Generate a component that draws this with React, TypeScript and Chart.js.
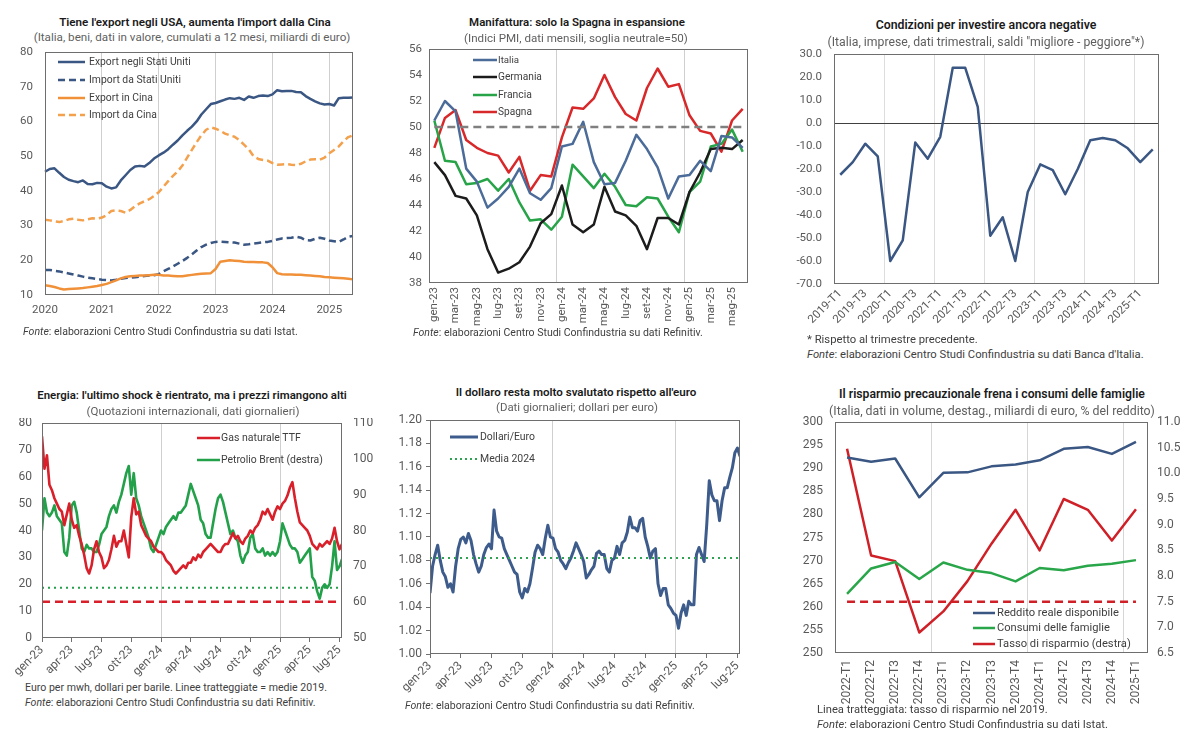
import React, { useEffect, useRef } from 'react';
import { Chart, registerables } from 'chart.js';
Chart.register(...registerables);

const FONT = 'Roboto, "Noto Sans", "DejaVu Sans", sans-serif';
Chart.defaults.font.family = FONT;
const TICK = '#595959';
const GRIDV = '#cfcfcf';
const CLEAR = 'rgba(0,0,0,0)';
const tickFont = { family: FONT, size: 11.5 };
const tickFontB = { family: FONT, size: 12 };

// ===================== Panel 1 =====================
const p1Years = ['2020', '2021', '2022', '2023', '2024', '2025'];
const p1ExportUSA = [
  45.5, 46.3, 46.5, 45.2, 44.0, 43.2, 42.8, 42.5, 43.0, 42.0, 41.9, 42.3,
  42.2, 41.2, 40.7, 41.0, 43.0, 44.5, 46.0, 47.0, 47.2, 47.0, 48.0, 49.3,
  50.2, 51.0, 52.0, 53.3, 54.5, 56.0, 57.3, 58.5, 60.0, 62.0, 63.5, 65.0,
  65.3, 65.8, 66.3, 66.7, 66.5, 66.8, 66.2, 67.2, 66.8, 67.3, 67.5, 67.3,
  67.8, 69.0, 68.7, 68.8, 68.8, 68.5, 68.4, 67.3, 66.5, 65.8, 65.2, 64.9,
  65.0, 64.6, 66.7, 66.8, 66.8, 66.9,
];
const p1ImportUSA = [
  17.2, 17.2, 17.0, 16.8, 16.5, 16.2, 15.9, 15.6, 15.3, 15.0, 14.8, 14.6,
  14.4, 14.3, 14.2, 14.4, 14.7, 14.9, 15.0, 15.1, 15.3, 15.5, 15.6, 15.7,
  16.0, 16.8, 17.5, 18.2, 19.0, 19.8, 20.7, 21.7, 22.8, 23.8, 24.5, 25.0,
  25.3, 25.4, 25.3, 25.2, 25.1, 24.8, 24.5, 24.6, 24.8, 25.0, 25.2, 25.3,
  25.6, 26.0, 26.3, 26.4, 26.5, 26.8, 26.5, 25.8, 25.7, 26.2, 26.5, 26.2,
  25.7, 25.5, 25.3, 26.0, 26.8, 27.0,
];
const p1ExportCina = [
  12.8, 12.6, 12.3, 11.9, 11.6, 11.7, 11.8, 11.9, 12.0, 12.2, 12.4, 12.6,
  12.9, 13.2, 13.7, 14.2, 14.8, 15.2, 15.4, 15.5, 15.6, 15.6, 15.7, 15.8,
  15.8, 15.6, 15.6, 15.5, 15.4, 15.4, 15.6, 15.8, 16.0, 16.1, 16.2, 16.3,
  17.5, 19.6, 19.8, 20.0, 19.9, 19.8, 19.6, 19.5, 19.5, 19.4, 19.4, 19.2,
  18.0, 16.3, 16.0, 15.9, 15.9, 15.8, 15.8, 15.7, 15.6, 15.5, 15.4, 15.2,
  15.1, 15.0, 14.9, 14.8, 14.7, 14.5,
];
const p1ImportCina = [
  31.7, 31.5, 31.2, 31.0, 31.3, 31.8, 32.0, 31.7, 31.5, 31.8, 32.1, 32.0,
  32.3, 33.0, 34.2, 34.4, 34.2, 33.7, 34.5, 35.6, 36.4, 37.0, 37.6, 38.5,
  39.6, 41.2, 42.8, 44.3, 45.6, 47.3, 49.6, 51.8, 54.0, 56.0, 57.6, 58.3,
  57.9, 57.3, 56.5, 56.0, 55.6, 54.6, 53.3, 52.0, 50.0, 49.2, 48.9, 48.7,
  48.0, 47.5, 47.6, 47.7, 47.5, 47.4, 47.8, 48.5, 49.0, 49.1, 49.0, 49.6,
  50.8, 51.8, 52.8, 54.3, 55.5, 56.0,
];
const p1Months: string[] = [];
p1Years.forEach((y) => {
  for (let m = 1; m <= 12; m++) p1Months.push(y + '-' + m);
});
const p1Labels = p1Months.slice(0, p1ExportUSA.length);

// ===================== Panel 2 =====================
const p2Labels = [
  'gen-23', 'feb-23', 'mar-23', 'apr-23', 'mag-23', 'giu-23', 'lug-23', 'ago-23', 'set-23', 'ott-23', 'nov-23', 'dic-23',
  'gen-24', 'feb-24', 'mar-24', 'apr-24', 'mag-24', 'giu-24', 'lug-24', 'ago-24', 'set-24', 'ott-24', 'nov-24', 'dic-24',
  'gen-25', 'feb-25', 'mar-25', 'apr-25', 'mag-25', 'giu-25',
];
const p2Italia = [50.5, 52.0, 51.2, 46.8, 45.8, 43.8, 44.5, 45.4, 46.8, 44.9, 44.4, 45.3, 48.5, 48.7, 50.4, 47.3, 45.6, 45.7, 47.4, 49.4, 48.3, 46.9, 44.5, 46.2, 46.3, 47.4, 46.6, 49.3, 49.2, 48.4];
const p2Germania = [47.3, 46.3, 44.7, 44.5, 43.2, 40.6, 38.8, 39.1, 39.6, 40.8, 42.6, 43.3, 45.5, 42.5, 41.9, 42.5, 45.4, 43.5, 43.2, 42.4, 40.6, 43.0, 43.0, 42.5, 45.0, 46.5, 48.3, 48.4, 48.3, 49.0];
const p2Francia = [50.5, 47.4, 47.3, 45.6, 45.7, 46.0, 45.1, 46.0, 44.2, 42.8, 42.9, 42.1, 43.1, 47.1, 46.2, 45.3, 46.4, 45.4, 44.0, 43.9, 44.6, 44.5, 43.1, 41.9, 45.0, 45.8, 48.5, 48.7, 49.8, 48.1];
const p2Spagna = [48.4, 50.7, 51.3, 49.0, 48.4, 48.0, 47.8, 46.5, 47.7, 45.1, 46.3, 46.2, 49.2, 51.5, 51.4, 52.2, 54.0, 52.3, 51.0, 50.5, 53.0, 54.5, 53.1, 53.3, 50.9, 49.7, 49.5, 48.1, 50.5, 51.4];
const p2Soglia = 50;

// ===================== Panel 3 =====================
const p3Labels = [
  '2019-T1', '2019-T2', '2019-T3', '2019-T4', '2020-T1', '2020-T2', '2020-T3', '2020-T4',
  '2021-T1', '2021-T2', '2021-T3', '2021-T4', '2022-T1', '2022-T2', '2022-T3', '2022-T4',
  '2023-T1', '2023-T2', '2023-T3', '2023-T4', '2024-T1', '2024-T2', '2024-T3', '2024-T4',
  '2025-T1', '2025-T2',
];
const p3Saldi = [-22.5, -17, -9, -14.5, -60, -51, -8.5, -15.5, -6, 24, 24, 7, -49, -41, -60, -30, -18, -20.5, -31, -20, -7.5, -6.5, -7.5, -11, -17, -11.5];

// ===================== Panels 4 & 5 (weekly readings, 4 per month) =====================
const p45TickLabels = ['gen-23', 'apr-23', 'lug-23', 'ott-23', 'gen-24', 'apr-24', 'lug-24', 'ott-24', 'gen-25', 'apr-25', 'lug-25'];
const p4Gas = [
  75, 63, 68, 57, 55, 52, 50, 48, 47, 42, 46, 50, 44, 41, 42, 38,
  35, 31, 26, 24, 27, 33, 36, 32, 30, 26, 27, 29, 33, 38, 34, 36,
  36, 40, 35, 30, 45, 52, 46, 47, 42, 40, 38, 37, 36, 34, 33, 32,
  32, 31, 29, 28, 27, 25, 24, 25, 26, 27, 26, 28, 28, 30, 29, 31,
  30, 32, 33, 34, 35, 34, 33, 32, 32, 34, 35, 35, 37, 39, 37, 38,
  36, 35, 37, 38, 40, 39, 41, 42, 44, 47, 46, 48, 46, 44, 47, 49,
  48, 50, 51, 53, 56, 58, 52, 47, 43, 42, 41, 40, 38, 35, 34, 33,
  35, 34, 35, 36, 35, 37, 41, 36, 33, 35,
];
const p4Brent = [
  80, 89, 85, 84, 85, 87, 84, 83, 82, 74, 73, 78, 87, 88, 85, 80,
  75, 74, 76, 75, 75, 74, 74, 76, 79, 80, 81, 84, 86, 87, 85, 88,
  90, 93, 96, 98, 90, 96, 89, 87, 84, 82, 80, 78, 75, 74, 76, 78,
  80, 79, 81, 82, 83, 84, 83, 85, 85, 86, 87, 90, 93, 91, 89, 87,
  83, 82, 79, 78, 78, 82, 86, 89, 90, 88, 85, 82, 79, 80, 78, 77,
  73, 71, 73, 74, 78, 79, 75, 74, 74, 75, 73, 74, 73, 74, 73, 74,
  77, 82, 80, 78, 76, 75, 75, 74, 71, 72, 73, 74, 75, 67, 66, 63,
  61, 64, 65, 64, 65, 70, 77, 69, 70, 72,
];
const p4Gas2019 = 13.5;
const p4Brent2019 = 64;

const p5Usd = [
  1.052, 1.075, 1.085, 1.093, 1.080, 1.070, 1.066, 1.057, 1.060, 1.053, 1.075, 1.090,
  1.098, 1.100, 1.095, 1.103, 1.097, 1.085, 1.077, 1.070, 1.075, 1.085, 1.091, 1.094,
  1.090, 1.123, 1.105, 1.100, 1.099, 1.090, 1.085, 1.080, 1.075, 1.070, 1.068, 1.053,
  1.048, 1.056, 1.053, 1.060, 1.073, 1.087, 1.093, 1.090, 1.085, 1.099, 1.110, 1.100,
  1.099, 1.090, 1.087, 1.080, 1.077, 1.073, 1.078, 1.082, 1.088, 1.095, 1.090, 1.085,
  1.079, 1.065, 1.068, 1.072, 1.075, 1.086, 1.088, 1.085, 1.085, 1.073, 1.070, 1.080,
  1.082, 1.092, 1.085, 1.095, 1.097, 1.104, 1.117, 1.108, 1.108, 1.105, 1.114, 1.116,
  1.100, 1.092, 1.082, 1.088, 1.090, 1.060, 1.050, 1.056, 1.056, 1.042, 1.039, 1.035,
  1.033, 1.022, 1.035, 1.042, 1.033, 1.045, 1.042, 1.042, 1.085, 1.091, 1.085, 1.079,
  1.110, 1.148, 1.136, 1.131, 1.131, 1.114, 1.131, 1.142, 1.142, 1.151, 1.159, 1.172,
  1.176, 1.169,
];
const p5Media2024 = 1.082;

// ===================== Panel 6 =====================
const p6Labels = ['2022-T1', '2022-T2', '2022-T3', '2022-T4', '2023-T1', '2023-T2', '2023-T3', '2023-T4', '2024-T1', '2024-T2', '2024-T3', '2024-T4', '2025-T1'];
const p6Reddito = [292.3, 291.4, 292.1, 283.7, 289.0, 289.1, 290.4, 290.8, 291.7, 294.2, 294.6, 293.1, 295.7];
const p6Consumi = [262.8, 268.3, 269.7, 266.0, 269.6, 268.0, 267.3, 265.5, 268.4, 267.9, 268.9, 269.3, 270.1];
const p6Tasso = [10.48, 8.4, 8.29, 6.9, 7.31, 7.9, 8.63, 9.29, 8.5, 9.5, 9.29, 8.69, 9.3];
const p6Tasso2019 = 7.5;

// ===================== colours =====================
const NAVY = '#3a5683';
const ORANGE = '#f0913a';
const ORANGE_D = '#f4a14e';
const P2_BLUE = '#4b6b99';
const P2_BLACK = '#1c1c1c';
const P2_GREEN = '#27a348';
const P2_RED = '#d8282a';
const RED = '#d9202a';
const GREEN = '#23a04a';

// ===================== helpers =====================
const framePlugin = {
  id: 'frame',
  afterDraw(chart: any) {
    const { ctx, chartArea: a } = chart;
    ctx.save();
    ctx.strokeStyle = '#6e6e6e';
    ctx.lineWidth = 1;
    ctx.strokeRect(Math.round(a.left) + 0.5, Math.round(a.top) + 0.5, Math.round(a.right - a.left) - 1, Math.round(a.bottom - a.top) - 1);
    ctx.restore();
  },
};

const fitW = (w: number) => (s: any) => {
  s.width = w;
  s.paddingTop = 0; s.paddingBottom = 0; s.paddingLeft = 0; s.paddingRight = 0;
};
const fitH = (h: number) => (s: any) => {
  s.height = h;
  s.paddingTop = 0; s.paddingBottom = 0; s.paddingLeft = 0; s.paddingRight = 0;
};

const base = (pad: any) => ({
  animation: false,
  responsive: true,
  maintainAspectRatio: false,
  layout: { padding: pad },
  plugins: { legend: { display: false }, tooltip: { enabled: false }, title: { display: false } },
  elements: { point: { radius: 0 }, line: { tension: 0, borderJoinStyle: 'round' } },
});

const ln = (data: any[], color: string, width = 2.5, dash: number[] = [], extra: any = {}) => ({
  data, borderColor: color, backgroundColor: color, borderWidth: width, borderDash: dash,
  pointRadius: 0, fill: false, tension: 0, ...extra,
});

const weekX = (arr: number[]) => arr.map((_, i) => i / 4);
const toPts = (arr: number[]) => arr.map((v, i) => ({ x: i / 4, y: v }));
const flat = (v: number, xs: number[]) => [{ x: xs[0], y: v }, { x: xs[xs.length - 1], y: v }];

// ===================== configs =====================
function cfg1(): any {
  return {
    type: 'line',
    data: {
      labels: p1Labels,
      datasets: [
        ln(p1ImportCina, ORANGE_D, 2.5, [7, 4]),
        ln(p1ExportCina, ORANGE, 2.5),
        ln(p1ImportUSA, NAVY, 2.5, [7, 4]),
        ln(p1ExportUSA, NAVY, 2.5),
      ],
    },
    options: {
      ...base({ left: 0, top: 6, right: 9, bottom: 0 }),
      scales: {
        x: {
          offset: false,
          border: { display: false },
          grid: { color: (c: any) => (c.index > 0 && c.index % 12 === 0 ? GRIDV : CLEAR), drawTicks: false },
          ticks: { autoSkip: false, maxRotation: 0, minRotation: 0, padding: 8, color: TICK, font: tickFont,
            callback: (_v: any, i: number) => (i % 12 === 0 ? p1Years[i / 12] : '') },
          afterFit: fitH(33),
        },
        y: {
          min: 10, max: 80,
          border: { display: false },
          grid: { display: false, drawTicks: false },
          ticks: { stepSize: 10, padding: 12, color: TICK, font: tickFont },
          afterFit: fitW(45),
        },
      },
    },
    plugins: [framePlugin],
  };
}

function cfg2(): any {
  return {
    type: 'line',
    data: {
      labels: p2Labels,
      datasets: [
        ln(p2Labels.map(() => p2Soglia), '#7f7f7f', 2.5, [8, 5]),
        ln(p2Italia, P2_BLUE, 2.5),
        ln(p2Germania, P2_BLACK, 2.5),
        ln(p2Francia, P2_GREEN, 2.5),
        ln(p2Spagna, P2_RED, 2.5),
      ],
    },
    options: {
      ...base({ left: 0, top: 5, right: 7, bottom: 0 }),
      scales: {
        x: {
          offset: true,
          border: { display: false },
          grid: { offset: true, color: (c: any) => (c.index === 12 || c.index === 24 ? GRIDV : CLEAR), drawTicks: false },
          ticks: { autoSkip: false, maxRotation: 90, minRotation: 90, padding: 4, color: TICK, font: tickFont,
            callback: (_v: any, i: number) => (i % 2 === 0 ? p2Labels[i] : '') },
          afterFit: fitH(46),
        },
        y: {
          min: 38, max: 56,
          border: { display: false },
          grid: { display: false, drawTicks: false },
          ticks: { stepSize: 2, padding: 7, color: TICK, font: tickFont },
          afterFit: fitW(29),
        },
      },
    },
    plugins: [framePlugin],
  };
}

function cfg3(): any {
  return {
    type: 'line',
    data: { labels: p3Labels, datasets: [ln(p3Saldi, NAVY, 2.5)] },
    options: {
      ...base({ left: 0, top: 6, right: 11, bottom: 0 }),
      scales: {
        x: {
          offset: true,
          border: { display: false },
          grid: { offset: true, color: (c: any) => (c.index > 0 && c.index % 4 === 0 ? '#dddddd' : CLEAR), drawTicks: false },
          ticks: { autoSkip: false, maxRotation: 45, minRotation: 45, padding: 3, color: TICK, font: tickFont,
            callback: (_v: any, i: number) => (i % 2 === 0 ? p3Labels[i] : '') },
          afterFit: fitH(54),
        },
        y: {
          min: -70, max: 30,
          border: { display: false },
          grid: { color: (c: any) => (c.tick && c.tick.value === 0 ? '#404040' : CLEAR), drawTicks: false, lineWidth: 1 },
          ticks: { stepSize: 10, padding: 12, color: TICK, font: tickFont, callback: (v: any) => Number(v).toFixed(1) },
          afterFit: fitW(44),
        },
      },
    },
    plugins: [framePlugin],
  };
}

function timeAxis(padding: number, h: number) {
  return {
    type: 'linear',
    min: 0,
    max: (p4Gas.length - 1) / 4,
    border: { display: false },
    afterBuildTicks: (s: any) => { s.ticks = p45TickLabels.map((_, i) => ({ value: i * 3 })); },
    grid: {
      color: (c: any) => (c.tick && (c.tick.value === 12 || c.tick.value === 24) ? GRIDV : CLEAR),
      tickColor: '#707070', tickLength: 4, drawTicks: true,
    },
    ticks: { autoSkip: false, maxRotation: 45, minRotation: 45, padding, color: TICK, font: tickFontB,
      callback: (v: any) => p45TickLabels[Math.round(Number(v) / 3)] },
    afterFit: fitH(h),
  };
}

function cfg4(): any {
  const xs = weekX(p4Gas);
  return {
    type: 'line',
    data: {
      datasets: [
        ln(flat(p4Gas2019, xs), RED, 2.5, [8, 5], { yAxisID: 'y' }),
        ln(flat(p4Brent2019, xs), GREEN, 2, [2, 4], { yAxisID: 'y1' }),
        ln(toPts(p4Gas), RED, 2.6, [], { yAxisID: 'y' }),
        ln(toPts(p4Brent), GREEN, 2.6, [], { yAxisID: 'y1' }),
      ],
    },
    options: {
      ...base({ left: 0, top: 5, right: 0, bottom: 0 }),
      scales: {
        x: timeAxis(1, 42),
        y: {
          min: 0, max: 80, position: 'left',
          border: { display: false },
          grid: { display: false, drawTicks: false },
          ticks: { stepSize: 10, padding: 10, color: TICK, font: tickFontB },
          afterFit: fitW(42),
        },
        y1: {
          min: 50, max: 110, position: 'right',
          border: { display: false },
          grid: { display: false, drawTicks: false },
          ticks: { stepSize: 10, padding: 11, color: TICK, font: tickFontB },
          afterFit: fitW(38),
        },
      },
    },
    plugins: [framePlugin],
  };
}

function cfg5(): any {
  const xs = weekX(p5Usd);
  return {
    type: 'line',
    data: {
      datasets: [
        ln(flat(p5Media2024, xs), '#2ea352', 2, [2, 4]),
        ln(toPts(p5Usd), '#3d5c8c', 3),
      ],
    },
    options: {
      ...base({ left: 0, top: 6, right: 8, bottom: 0 }),
      scales: {
        x: timeAxis(1, 46),
        y: {
          min: 1.0, max: 1.2,
          border: { display: false },
          grid: { drawOnChartArea: false, drawTicks: true, tickLength: 4, tickColor: '#707070', color: CLEAR },
          ticks: { stepSize: 0.02, padding: 4, color: TICK, font: tickFontB, callback: (v: any) => Number(v).toFixed(2) },
          afterFit: fitW(32),
        },
      },
    },
    plugins: [framePlugin],
  };
}

function cfg6(): any {
  return {
    type: 'line',
    data: {
      labels: p6Labels,
      datasets: [
        ln(p6Labels.map(() => p6Tasso2019), '#cf2027', 2.5, [8, 5], { yAxisID: 'y1' }),
        ln(p6Reddito, NAVY, 2.5, [], { yAxisID: 'y' }),
        ln(p6Consumi, '#2aa64a', 2.5, [], { yAxisID: 'y' }),
        ln(p6Tasso, '#cf2027', 2.5, [], { yAxisID: 'y1' }),
      ],
    },
    options: {
      ...base({ left: 0, top: 6, right: 0, bottom: 0 }),
      scales: {
        x: {
          offset: true,
          border: { display: false },
          grid: { offset: true, color: (c: any) => (c.index > 0 && c.index % 4 === 0 ? '#d6d6d6' : CLEAR), drawTicks: false },
          ticks: { autoSkip: false, maxRotation: 90, minRotation: 90, padding: 7, color: TICK, font: tickFontB },
          afterFit: fitH(53),
        },
        y: {
          min: 250, max: 300, position: 'left',
          border: { display: false },
          grid: { display: false, drawTicks: false },
          ticks: { stepSize: 5, padding: 12, color: TICK, font: tickFontB },
          afterFit: fitW(45),
        },
        y1: {
          min: 6.5, max: 11, position: 'right',
          border: { display: false },
          grid: { display: false, drawTicks: false },
          ticks: { stepSize: 0.5, padding: 9, color: TICK, font: tickFontB, callback: (v: any) => Number(v).toFixed(1) },
          afterFit: fitW(42),
        },
      },
    },
    plugins: [framePlugin],
  };
}

// ===================== components =====================
function ChartBox(props: { l: number; t: number; w: number; h: number; make: () => any }) {
  const ref = useRef<HTMLCanvasElement | null>(null);
  useEffect(() => {
    const chart = new Chart(ref.current as HTMLCanvasElement, props.make());
    return () => chart.destroy();
  }, []);
  return (
    <div style={{ position: 'absolute', left: props.l, top: props.t, width: props.w, height: props.h }}>
      <canvas ref={ref} />
    </div>
  );
}

let measureCtx: CanvasRenderingContext2D | null = null;
// font size (px) that makes `text` span the width `w`
function sizeFor(text: string, w: number, weight: number) {
  if (!measureCtx) measureCtx = document.createElement('canvas').getContext('2d');
  if (!measureCtx) return 11;
  measureCtx.font = `${weight} 100px Roboto`;
  const m = measureCtx.measureText(text).width;
  return m > 0 ? (w / m) * 100 : 11;
}

function Txt(props: { x: number; y: number; w: number; text: string; color?: string; weight?: number; center?: boolean; fonte?: boolean }) {
  const { x, y, w, text, color = '#404040', weight = 400, center = false, fonte = false } = props;
  const size = sizeFor(text, w, weight);
  return (
    <div
      style={{
        position: 'absolute', left: x, top: y, fontFamily: FONT, fontSize: size, fontWeight: weight, color,
        whiteSpace: 'nowrap', lineHeight: 1, transform: `translate(${center ? '-50%' : '0'}, -50%)`,
      }}
    >
      {fonte ? (<><i>Fonte</i>{text.slice(5)}</>) : text}
    </div>
  );
}

function Sample(props: { x1: number; x2: number; y: number; color: string; width?: number; dash?: string }) {
  const { x1, x2, y, color, width = 2.5, dash } = props;
  return (
    <svg style={{ position: 'absolute', left: x1, top: y - 5, overflow: 'visible' }} width={x2 - x1} height={10}>
      <line x1={0} y1={5} x2={x2 - x1} y2={5} stroke={color} strokeWidth={width} strokeDasharray={dash} />
    </svg>
  );
}

function Legend(props: { x1: number; x2: number; tx: number; items: { y: number; w: number; color: string; label: string; dash?: string; width?: number }[] }) {
  return (
    <>
      {props.items.map((it, i) => (
        <React.Fragment key={i}>
          <Sample x1={props.x1} x2={props.x2} y={it.y} color={it.color} dash={it.dash} width={it.width} />
          <Txt x={props.tx} y={it.y} w={it.w} text={it.label} color="#404040" />
        </React.Fragment>
      ))}
    </>
  );
}

const TW = 600; // title weight
const TC = '#1a1a1a';
const SC = '#5f5f5f';

export default function App() {
  return (
    <div style={{ position: 'absolute', left: 0, top: 0, width: 1200, height: 740, background: '#ffffff', overflow: 'hidden' }}>
      <ChartBox l={0} t={46} w={362} h={282} make={cfg1} />
      <ChartBox l={400} t={44} w={355} h={285} make={cfg2} />
      <ChartBox l={790} t={48} w={380} h={290} make={cfg3} />
      <ChartBox l={0} t={418} w={380} h={262} make={cfg4} />
      <ChartBox l={398} t={414} w={350} h={286} make={cfg5} />
      <ChartBox l={790} t={416} w={400} h={290} make={cfg6} />

      {/* Panel 1 */}
      <Txt x={195} y={23} w={272} weight={TW} color={TC} center text="Tiene l'export negli USA, aumenta l'import dalla Cina" />
      <Txt x={192} y={38} w={317} color={SC} center text="(Italia, beni, dati in valore, cumulati a 12 mesi, miliardi di euro)" />
      <Legend x1={58} x2={85} tx={89} items={[
        { y: 62, w: 102, color: NAVY, label: 'Export negli Stati Uniti' },
        { y: 80, w: 92, color: NAVY, label: 'Import da Stati Uniti', dash: '7 4' },
        { y: 98, w: 64, color: ORANGE, label: 'Export in Cina' },
        { y: 115, w: 68, color: ORANGE_D, label: 'Import da Cina', dash: '7 4' },
      ]} />
      <Txt x={23} y={332} w={276} fonte text="Fonte: elaborazioni Centro Studi Confindustria su dati Istat." />

      {/* Panel 2 */}
      <Txt x={577} y={23} w={216} weight={TW} color={TC} center text="Manifattura: solo la Spagna in espansione" />
      <Txt x={576} y={39} w={224} color={SC} center text="(Indici PMI, dati mensili, soglia neutrale=50)" />
      <Legend x1={473} x2={497} tx={498} items={[
        { y: 60, w: 21, color: P2_BLUE, label: 'Italia' },
        { y: 77, w: 44, color: P2_BLACK, label: 'Germania' },
        { y: 95, w: 34, color: P2_GREEN, label: 'Francia' },
        { y: 112, w: 34, color: P2_RED, label: 'Spagna' },
      ]} />
      <Txt x={413} y={333} w={291} fonte text="Fonte: elaborazioni Centro Studi Confindustria su dati Refinitiv." />

      {/* Panel 3 */}
      <Txt x={986} y={25} w={221} weight={TW} color={TC} center text="Condizioni per investire ancora negative" />
      <Txt x={986} y={42} w={317} color={SC} center text={'(Italia, imprese, dati trimestrali, saldi "migliore - peggiore"*)'} />
      <Txt x={807} y={340} w={171} text="* Rispetto al trimestre precedente." />
      <Txt x={807} y={355} w={338} fonte text="Fonte: elaborazioni Centro Studi Confindustria su dati Banca d'Italia." />

      {/* Panel 4 */}
      <Txt x={192} y={396} w={310} weight={TW} color={TC} center text="Energia: l'ultimo shock è rientrato, ma i prezzi rimangono alti" />
      <Txt x={193} y={412} w={213} color={SC} center text="(Quotazioni internazionali, dati giornalieri)" />
      <Legend x1={197} x2={220} tx={221} items={[
        { y: 438, w: 80, color: RED, label: 'Gas naturale TTF' },
        { y: 460, w: 102, color: GREEN, label: 'Petrolio Brent (destra)' },
      ]} />
      <Txt x={25} y={688} w={302} text="Euro per mwh, dollari per barile. Linee tratteggiate = medie 2019." />
      <Txt x={25} y={703} w={292} fonte text="Fonte: elaborazioni Centro Studi Confindustria su dati Refinitiv." />

      {/* Panel 5 */}
      <Txt x={576} y={393} w={241} weight={TW} color={TC} center text="Il dollaro resta molto svalutato rispetto all'euro" />
      <Txt x={577} y={408} w={162} color={SC} center text="(Dati giornalieri; dollari per euro)" />
      <Legend x1={450} x2={478} tx={480} items={[
        { y: 437, w: 55, color: '#3d5c8c', label: 'Dollari/Euro', width: 3 },
        { y: 459, w: 55, color: '#2ea352', label: 'Media 2024', dash: '2 3', width: 2 },
      ]} />
      <Txt x={405} y={706} w={291} fonte text="Fonte: elaborazioni Centro Studi Confindustria su dati Refinitiv." />

      {/* Panel 6 */}
      <Txt x={992} y={394} w={306} weight={TW} color={TC} center text="Il risparmio precauzionale frena i consumi delle famiglie" />
      <Txt x={992} y={411} w={326} color={SC} center text="(Italia, dati in volume, destag., miliardi di euro, % del reddito)" />
      <Legend x1={973} x2={995} tx={997} items={[
        { y: 613, w: 122, color: NAVY, label: 'Reddito reale disponibile' },
        { y: 628, w: 113, color: '#2aa64a', label: 'Consumi delle famiglie' },
        { y: 644, w: 134, color: '#cf2027', label: 'Tasso di risparmio (destra)' },
      ]} />
      <Txt x={817} y={710} w={231} text="Linea tratteggiata: tasso di risparmio nel 2019." />
      <Txt x={817} y={725} w={292} fonte text="Fonte: elaborazioni Centro Studi Confindustria su dati Istat." />
    </div>
  );
}
